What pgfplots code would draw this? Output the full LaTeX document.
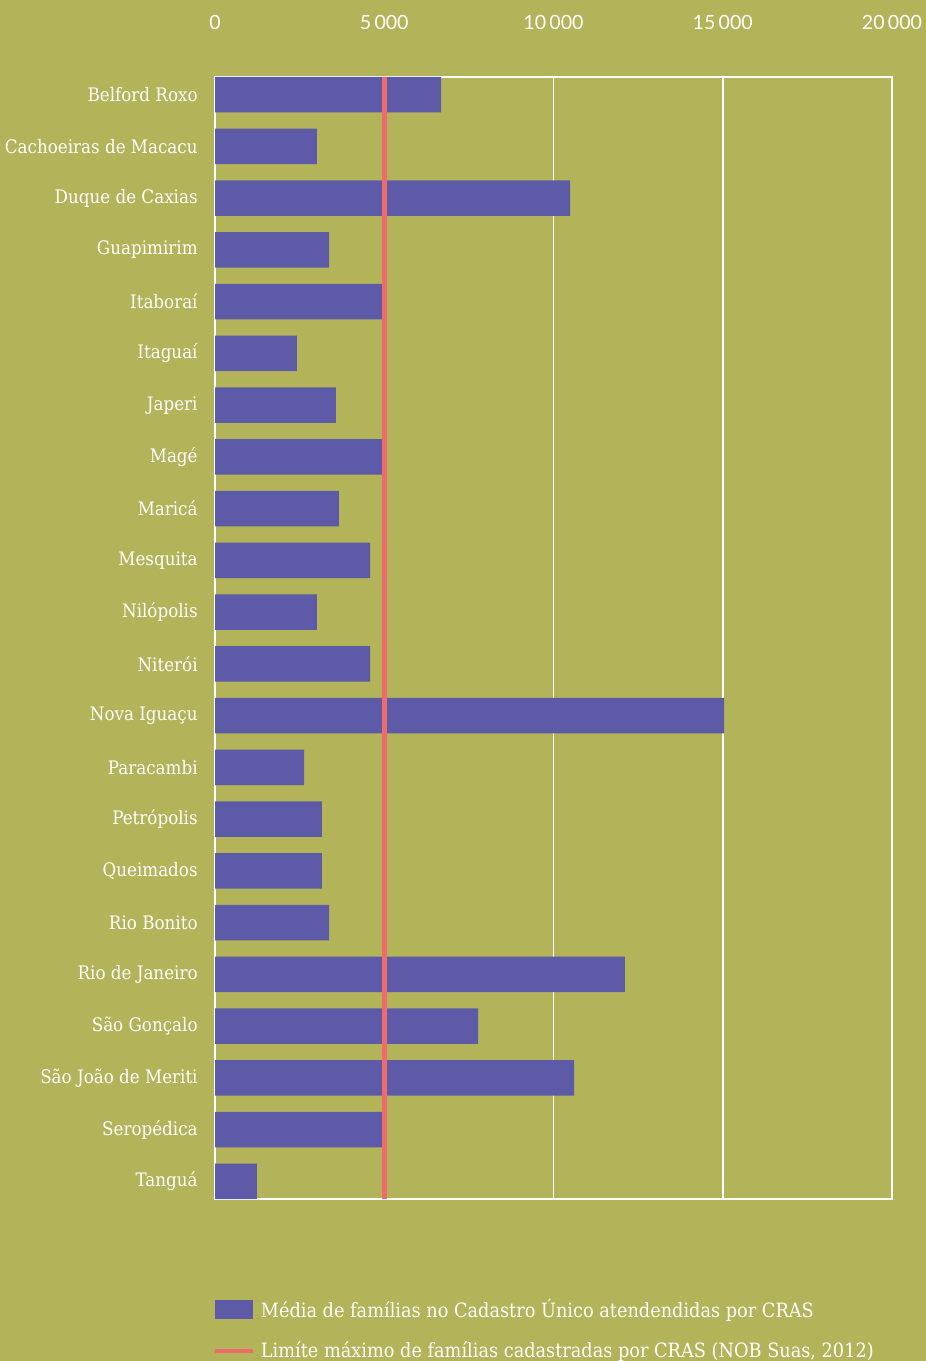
\documentclass[border=0pt]{standalone}
\usepackage{fontspec}
\setmainfont{DejaVu Serif Condensed}
\newfontfamily\tickfont{Lato}
\usepackage{pgfplots}
\pgfplotsset{compat=1.18}
\definecolor{bg}{HTML}{B3B45A}
\definecolor{barc}{HTML}{5D5AA8}
\definecolor{lim}{HTML}{F06B6B}
\pgfplotstableread{
y val
0 6680
1 3010
2 10490
3 3370
4 4960
5 2420
6 3570
7 4960
8 3660
9 4580
10 3010
11 4580
12 15040
13 2630
14 3160
15 3160
16 3370
17 12110
18 7770
19 10610
20 4960
21 1240
}\datatbl
\begin{document}
\begin{tikzpicture}
\fill[bg] (0pt,0pt) rectangle (463pt,680.5pt);
\begin{axis}[
  at={(107.5pt,81pt)}, anchor=south west,
  scale only axis, width=338.5pt, height=561pt,
  xmin=0, xmax=20000, ymin=-0.34, ymax=21.34,
  y dir=reverse,
  scaled x ticks=false,
  axis line style={white, line width=0.75pt},
  xmajorgrids, grid style={white, line width=0.75pt},
  major tick length=0pt,
  xtick={0,5000,10000,15000,20000},
  xticklabels={0,5\,000,10\,000,15\,000,20\,000},
  xticklabel pos=upper,
  xticklabel style={font=\tickfont\fontsize{9.8}{11}\selectfont, text=white, anchor=center, inner sep=0pt, yshift=27.5pt},
  ytick={0,...,21},
  yticklabels={Belford Roxo,Cachoeiras de Macacu,Duque de Caxias,Guapimirim,Itaboraí,Itaguaí,Japeri,Magé,Maricá,Mesquita,Nilópolis,Niterói,Nova Iguaçu,Paracambi,Petrópolis,Queimados,Rio Bonito,Rio de Janeiro,São Gonçalo,São João de Meriti,Seropédica,Tanguá},
  yticklabel style={font=\fontsize{9.3}{11}\selectfont, text=white, anchor=east, inner sep=0pt, xshift=-8.5pt},
  legend style={at={(0,-0.089)}, anchor=north west, xshift=-1pt, draw=none, fill=none, inner sep=0pt,
    font=\fontsize{9.85}{11}\selectfont, text=white, row sep=10.5pt,
    nodes={inner sep=0pt, anchor=west}},
  legend cell align=left,
]
\addplot[xbar, bar width=17.75pt, bar shift=0pt, fill=barc, draw=none,
  legend image code/.code={\fill[barc] (0pt,-4.75pt) rectangle (19pt,4.75pt); \path (21.5pt,0pt);}]
  table[x=val, y=y] {\datatbl};
\addlegendentry{Média de famílias no Cadastro Único atendendidas por CRAS}
\addplot[lim, line width=2.5pt, sharp plot,
  legend image code/.code={\draw[lim, line width=2pt] (0pt,0pt) -- (19pt,0pt); \path (21.5pt,0pt);}]
  coordinates {(5000,-0.34) (5000,21.34)};
\addlegendentry{Limíte máximo de famílias cadastradas por CRAS (NOB Suas, 2012)}
\end{axis}
\pgfresetboundingbox
\path[use as bounding box] (0pt,0pt) rectangle (463pt,680.5pt);
\end{tikzpicture}
\end{document}
